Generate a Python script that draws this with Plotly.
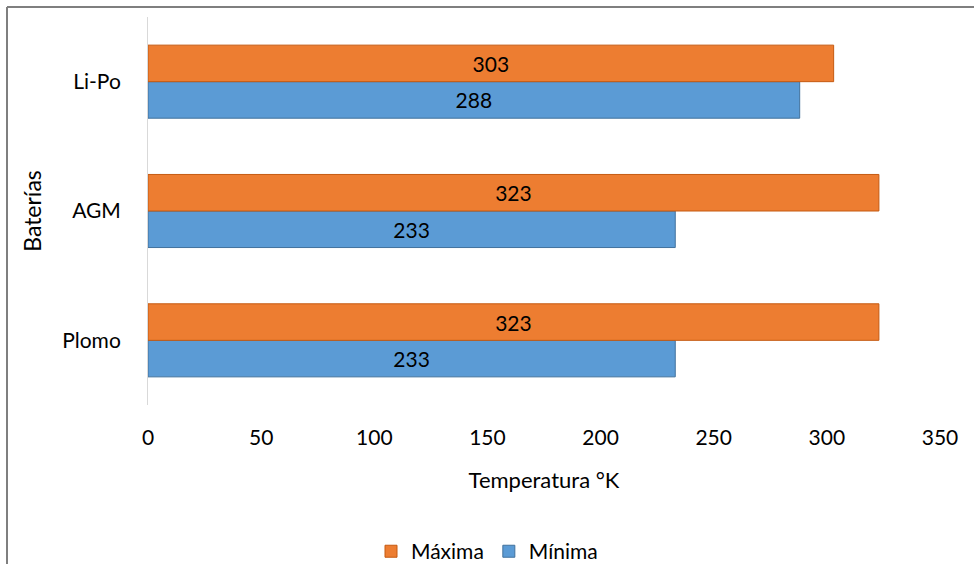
import plotly.graph_objects as go

categorias = ["Plomo", "AGM", "Li-Po"]
maxima = [323, 323, 303]
minima = [233, 233, 288]
x_ticks = [0, 50, 100, 150, 200, 250, 300, 350]

FONT = "Lato"

fig = go.Figure()
fig.add_trace(go.Bar(
    y=categorias, x=minima, name="Mínima", orientation="h",
    marker=dict(color="#5B9BD5", line=dict(color="#41719C", width=1)),
    text=[str(v) for v in minima], textposition="inside",
    insidetextanchor="middle",
    textfont=dict(color="#000000", size=21, family=FONT),
    legendrank=2,
))
fig.add_trace(go.Bar(
    y=categorias, x=maxima, name="Máxima", orientation="h",
    marker=dict(color="#ED7D31", line=dict(color="#C55A11", width=1)),
    text=[str(v) for v in maxima], textposition="inside",
    insidetextanchor="middle",
    textfont=dict(color="#000000", size=21, family=FONT),
    legendrank=1,
))

fig.update_layout(
    width=974, height=564,
    margin=dict(l=148, r=34, t=17, b=159, autoexpand=False),
    paper_bgcolor="white", plot_bgcolor="white",
    font=dict(family=FONT, size=21, color="#000000"),
    barmode="group", bargap=0.435, bargroupgap=0,
    showlegend=True,
    legend=dict(orientation="h", xref="container", x=0.5, xanchor="center",
                yref="container", y=0.022, yanchor="middle",
                font=dict(size=21, family=FONT), itemwidth=30),
    xaxis=dict(range=[0, 350], tickvals=x_ticks, showgrid=False, zeroline=False,
               showline=False, ticks="", tickfont=dict(size=21),
               automargin=False, ticklabelstandoff=18,
               title=dict(text="Temperatura °K", font=dict(size=22), standoff=24)),
    yaxis=dict(categoryorder="array", categoryarray=categorias,
               showgrid=False, zeroline=False, showline=True,
               linecolor="#D9D9D9", linewidth=1, ticks="",
               ticklabelstandoff=22, automargin=False,
               tickfont=dict(size=21),
               title=dict(text="Baterías", font=dict(size=23), standoff=14)),
    shapes=[
        dict(type="line", xref="paper", yref="paper",
             x0=-141/792, x1=826/792, y0=1 + 10/388, y1=1 + 10/388,
             line=dict(color="#7F7F7F", width=2)),
        dict(type="line", xref="paper", yref="paper",
             x0=-141/792, x1=-141/792, y0=1 + 10/388, y1=-170/388,
             line=dict(color="#7F7F7F", width=2)),
    ],
)

fig.write_html("out.html")
